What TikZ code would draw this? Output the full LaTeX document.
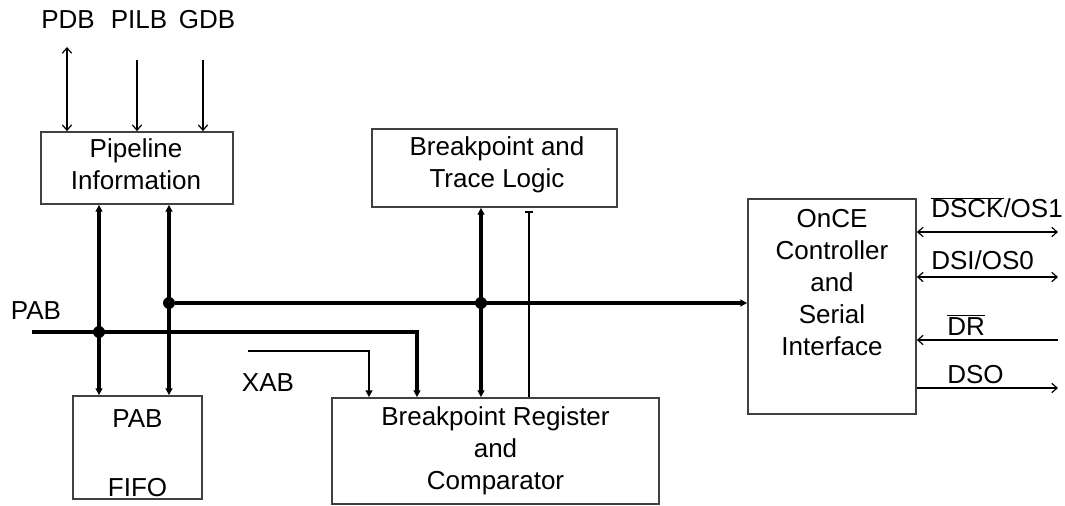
\documentclass[tikz,border=0pt]{standalone}
\usepackage{fontspec}
\setmainfont{Liberation Sans}
\usetikzlibrary{arrows.meta}

\begin{document}
\begin{tikzpicture}[x=0.75pt,y=-0.75pt,
  font=\fontsize{19.5}{24}\selectfont,
  blk/.style={draw=black!75,line width=1.3pt,align=center,inner sep=0pt},
  txt/.style={inner sep=0pt,align=center},
  sig/.style={line width=0.9pt,>={Straight Barb[length=4pt,width=7pt]}},
  wire/.style={line width=1.6pt,>={Triangle[length=5pt,width=5pt]}},
  bus/.style={line width=2.3pt,>={Triangle[length=5pt,width=5pt]}},
  dot/.style={circle,fill,inner sep=0pt,minimum size=9pt}]
\useasboundingbox (0,0) rectangle (1065,506);

% blocks
\node[blk,minimum width=144pt,minimum height=54pt] (pipe) at (137,168) {};
\node[txt] (pipetxt) at (136,164) {Pipeline\\Information};
\node[blk,minimum width=96.75pt,minimum height=77.25pt] (fifo) at (137.5,447.5) {};
\node[txt] (fifotxt) at (137.5,453) {PAB\\[28pt]FIFO};
\node[blk,minimum width=183.75pt,minimum height=58.5pt] (trace) at (494.5,168) {};
\node[txt] (tracetxt) at (497,165) {Breakpoint and\\Trace Logic};
\node[blk,minimum width=245.25pt,minimum height=79.5pt] (bpreg) at (495.5,451) {Breakpoint Register\\and\\Comparator};
\node[blk,minimum width=126pt,minimum height=161.25pt] (once) at (832,306.5) {};
\node[txt] (oncetxt) at (832,282.5) {OnCE\\Controller\\and\\Serial\\Interface};

% bus names
\node[txt] (pdb) at (68,20) {PDB};
\node[txt] (pilb) at (139,20) {PILB};
\node[txt] (gdb) at (207,20) {GDB};
\node[txt] (pab) at (36,311) {PAB};
\node[txt] (xab) at (268,383) {XAB};
\node[txt,anchor=base west] (dsck) at (931,218) {$\overline{\hbox{DSCK}}$/OS1};
\node[txt,anchor=base west] (dsi) at (931,270) {DSI/OS0};
\node[txt,anchor=base west] (dr) at (947,335) {$\overline{\hbox{DR}}$};
\node[txt,anchor=base west] (dso) at (947,383) {DSO};

% junctions
\node[dot] (j1) at (99,332) {};
\node[dot] (j2) at (169,303) {};
\node[dot] (j3) at (481,303) {};

% free ends
\coordinate (pdbend) at (67,47);
\coordinate (pilbend) at (137,60);
\coordinate (gdbend) at (203,60);
\coordinate (pabin) at (32,332);
\coordinate (pabturn) at (417,332);
\coordinate (xabin) at (248,351);
\coordinate (xabturn) at (369,351);
\coordinate (trig) at (529,211);
\coordinate (dsckend) at (1058,232);
\coordinate (dsiend) at (1058,277);
\coordinate (drend) at (1058,340);
\coordinate (dsoend) at (1058,388);

% data buses into the pipeline block
\draw[sig,<->] (pdbend) -- (pdbend |- pipe.north);
\draw[sig,->] (pilbend) -- (pilbend |- pipe.north);
\draw[sig,->] (gdbend) -- (gdbend |- pipe.north);

% address buses
\draw[bus,<->] (j1 |- pipe.south) -- (j1 |- fifo.north);
\draw[bus,<->] (j2 |- pipe.south) -- (j2 |- fifo.north);
\draw[bus,->] (pabin) -- (pabturn) -- (pabturn |- bpreg.north);
\draw[bus,->] (j2) -- (j2 -| once.west);
\draw[wire,->] (xabin) -- (xabturn) -- (xabturn |- bpreg.north);
\draw[bus,<->] (j3 |- bpreg.north) -- (j3 |- trace.south);
\draw[wire,-{Bar[width=6pt]}] (trig |- bpreg.north) -- (trig);

% serial pins
\draw[sig,<->] (once.east |- dsckend) -- (dsckend);
\draw[sig,<->] (once.east |- dsiend) -- (dsiend);
\draw[sig,<-] (once.east |- drend) -- (drend);
\draw[sig,->] (once.east |- dsoend) -- (dsoend);
\end{tikzpicture}
\end{document}
